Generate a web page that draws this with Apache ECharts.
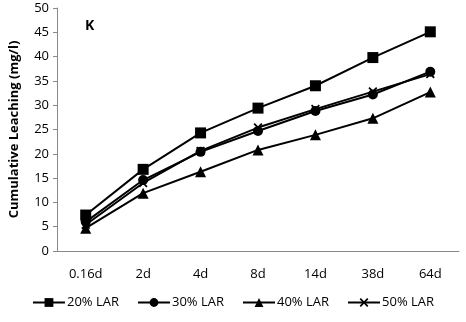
<!DOCTYPE html>
<html>
<head>
<meta charset="utf-8">
<script src="https://cdn.jsdelivr.net/npm/echarts@6/dist/echarts.min.js"></script>
<style>html,body{margin:0;padding:0;background:#fff}#c{width:466px;height:322px}</style>
</head>
<body>
<div id="c"></div>
<script>
// Cumulative potassium leaching over time for four LAR levels
var categories = ['0.16d', '2d', '4d', '8d', '14d', '38d', '64d'];
var lar20 = [7.4, 16.8, 24.3, 29.4, 34.0, 39.8, 45.1];
var lar30 = [6.0, 14.6, 20.4, 24.7, 28.8, 32.2, 36.9];
var lar40 = [4.7, 11.9, 16.3, 20.8, 23.9, 27.3, 32.7];
var lar50 = [5.4, 14.0, 20.6, 25.4, 29.2, 32.8, 36.4];
var yTicks = [0, 5, 10, 15, 20, 25, 30, 35, 40, 45, 50];

var FONT = '"Open Sans", "Noto Sans", sans-serif';
var CROSS = 'path://M0,1.4L1.4,0L5,3.6L8.6,0L10,1.4L6.4,5L10,8.6L8.6,10L5,6.4L1.4,10L0,8.6L3.6,5Z';

function line(name, data, symbol, size) {
  return {
    name: name, type: 'line', data: data,
    symbol: symbol, symbolSize: size,
    lineStyle: { color: '#000', width: 2 },
    itemStyle: { color: '#000' },
    animation: false
  };
}

var chart = echarts.init(document.getElementById('c'));
chart.setOption({
  backgroundColor: '#fff',
  textStyle: { fontFamily: FONT },
  grid: { left: 53, right: 7, top: 8, bottom: 71 },
  title: {
    text: 'K', left: 80, top: 14,
    textStyle: { fontFamily: FONT, fontSize: 14, fontWeight: 'bold', color: '#000' }
  },
  legend: {
    bottom: 8, left: 'center', itemGap: 18, itemWidth: 32, itemHeight: 11,
    textStyle: { fontFamily: FONT, fontSize: 13, color: '#000', padding: [0, 0, 0, -3] },
    data: ['20% LAR', '30% LAR', '40% LAR', '50% LAR']
  },
  xAxis: {
    type: 'category', data: categories, boundaryGap: true,
    axisLine: { lineStyle: { color: '#898989', width: 1 } },
    axisTick: { show: false },
    axisLabel: { color: '#000', fontSize: 13, fontFamily: FONT, margin: 17 }
  },
  yAxis: {
    type: 'value', min: 0, max: 50, interval: 5,
    name: 'Cumulative Leaching (mg/l)', nameLocation: 'middle', nameGap: 36,
    nameTextStyle: { fontFamily: FONT, fontSize: 13, fontWeight: 'bold', color: '#000' },
    axisLine: { show: true, lineStyle: { color: '#898989', width: 1 } },
    axisTick: { show: true, length: 4, lineStyle: { color: '#898989' } },
    splitLine: { show: false },
    axisLabel: {
      color: '#000', fontSize: 13, fontFamily: FONT, margin: 8,
      formatter: function (v) { return yTicks.indexOf(v) >= 0 ? String(v) : ''; }
    }
  },
  series: [
    line('20% LAR', lar20, 'rect', 11),
    line('30% LAR', lar30, 'circle', 10),
    line('40% LAR', lar40, 'triangle', 11),
    line('50% LAR', lar50, CROSS, 9)
  ]
});
</script>
</body>
</html>
